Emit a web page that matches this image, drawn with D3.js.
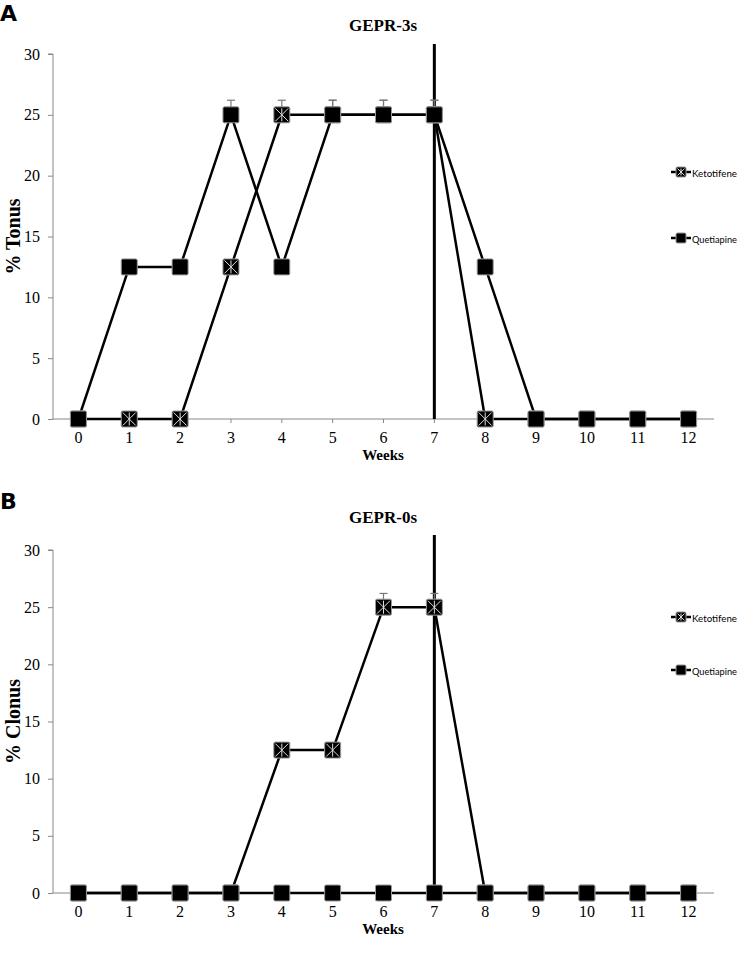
<!DOCTYPE html>
<html><head><meta charset="utf-8">
<script src="https://cdn.jsdelivr.net/npm/d3@7"></script>
<style>body{margin:0;background:#fff}svg{display:block}</style>
</head><body>
<svg id="c" width="742" height="958"></svg>
<script>
const weeks = ["0","1","2","3","4","5","6","7","8","9","10","11","12"];
const yTicks = [0,5,10,15,20,25,30];
const seriesNames = ["Ketotifene","Quetiapine"];
const tonusKetotifene = [0,0,0,12.5,25,25,25,25,0,0,0,0,0];
const tonusQuetiapine = [0,12.5,12.5,25,12.5,25,25,25,12.5,0,0,0,0];
const tonusKetotifeneErr = [0,0,0,0,1.2,1.2,1.2,1.2,0,0,0,0,0];
const tonusQuetiapineErr = [0,0,0,1.2,0,1.2,1.2,1.2,0,0,0,0,0];
const clonusKetotifene = [0,0,0,0,12.5,12.5,25,25,0,0,0,0,0];
const clonusQuetiapine = [0,0,0,0,0,0,0,0,0,0,0,0,0];
const clonusKetotifeneErr = [0,0,0,0,0,0,1.2,1.2,0,0,0,0,0];
const clonusQuetiapineErr = [0,0,0,0,0,0,0,0,0,0,0,0,0];
const markerWeek = "7";

const svg = d3.select("#c");

function drawPanel(cfg){
  const g = svg.append("g");
  const x = d3.scaleBand().domain(weeks).range([53,714]);
  const xc = w => x(w) + x.bandwidth()/2;
  const y = d3.scaleLinear().domain([0,30]).range([cfg.y0, cfg.y30]);

  g.append("text").attr("x",0).attr("y",cfg.letterY).text(cfg.letter)
    .attr("font-family","DejaVu Sans").attr("font-weight","bold").attr("font-size",22);
  g.append("text").attr("x",383).attr("y",cfg.titleY).attr("text-anchor","middle").text(cfg.title)
    .attr("font-family","Liberation Serif").attr("font-weight","bold").attr("font-size",17);

  const ya = g.append("g").attr("transform","translate(53,0)")
    .call(d3.axisLeft(y).tickValues(yTicks).tickSize(5).tickPadding(8));
  ya.select(".domain").attr("stroke","#888").attr("d",`M-5,${y(30)}H0V${y(0)}`);
  ya.selectAll(".tick line").attr("stroke","#888");
  ya.selectAll(".tick text").attr("font-family","Liberation Serif").attr("font-size",16).attr("fill","#000");

  const xa = g.append("g").attr("transform",`translate(0,${cfg.y0})`)
    .call(d3.axisBottom(x).tickSize(4).tickPadding(9));
  xa.select(".domain").attr("stroke","#888").attr("d","M53,0H714");
  xa.selectAll(".tick line").attr("stroke","#888");
  xa.selectAll(".tick text").attr("font-family","Liberation Serif").attr("font-size",16).attr("fill","#000");
  g.append("text").attr("x",383).attr("y",cfg.y0+41).attr("text-anchor","middle").text("Weeks")
    .attr("font-family","Liberation Serif").attr("font-weight","bold").attr("font-size",15);

  g.append("text").attr("transform",`translate(20,${(cfg.y0+cfg.y30)/2}) rotate(-90)`)
    .attr("text-anchor","middle").text(cfg.ylabel)
    .attr("font-family","Liberation Serif").attr("font-weight","bold").attr("font-size",20);

  g.append("line").attr("x1",xc(markerWeek)).attr("x2",xc(markerWeek))
    .attr("y1",cfg.lineTop).attr("y2",y(0)).attr("stroke","#000").attr("stroke-width",3);

  const series = [
    {name:seriesNames[0], vals:cfg.k, err:cfg.ke, cross:true},
    {name:seriesNames[1], vals:cfg.q, err:cfg.qe, cross:false}
  ];
  const line = d3.line().x((d,i)=>xc(weeks[i])).y(d=>y(d));
  series.forEach(s=>{
    g.append("path").attr("d",line(s.vals)).attr("fill","none").attr("stroke","#000").attr("stroke-width",2.5);
  });
  series.forEach(s=>{
    s.vals.forEach((v,i)=>{
      if(s.err[i]>0){
        const cx = xc(weeks[i]);
        g.append("line").attr("x1",cx).attr("x2",cx).attr("y1",y(v)).attr("y2",y(v+s.err[i])).attr("stroke","#777").attr("stroke-width",1.2);
        g.append("line").attr("x1",cx-4).attr("x2",cx+4).attr("y1",y(v+s.err[i])).attr("y2",y(v+s.err[i])).attr("stroke","#777").attr("stroke-width",1.2);
      }
    });
  });
  function marker(gg, cx, cy, sz, cross){
    gg.append("rect").attr("x",cx-sz/2).attr("y",cy-sz/2).attr("width",sz).attr("height",sz).attr("rx",1.5)
      .attr("fill","#000").attr("stroke","#999").attr("stroke-width",1);
    if(cross){
      const h = sz/2-1.5;
      gg.append("path").attr("d",`M${cx-h},${cy-h}L${cx+h},${cy+h}M${cx+h},${cy-h}L${cx-h},${cy+h}M${cx},${cy-h}V${cy+h}`)
        .attr("stroke","#ddd").attr("stroke-width",1);
    }
  }
  series.forEach(s=>{
    s.vals.forEach((v,i)=>marker(g, xc(weeks[i]), y(v), 16, s.cross));
  });

  series.forEach((s,j)=>{
    const ly = cfg.legY[j];
    g.append("line").attr("x1",671).attr("x2",691).attr("y1",ly).attr("y2",ly).attr("stroke","#000").attr("stroke-width",2.5);
    marker(g, 681, ly, 10, s.cross);
    g.append("text").attr("x",692).attr("y",ly+4.5).text(s.name)
      .attr("font-family","Lato").attr("font-size",10).attr("textLength",45).attr("lengthAdjust","spacingAndGlyphs");
  });
}

drawPanel({letter:"A", letterY:21, title:"GEPR-3s", titleY:31, y0:419, y30:54, lineTop:44,
  ylabel:"% Tonus", k:tonusKetotifene, q:tonusQuetiapine, ke:tonusKetotifeneErr, qe:tonusQuetiapineErr, legY:[172,238]});
drawPanel({letter:"B", letterY:509, title:"GEPR-0s", titleY:523, y0:893, y30:550, lineTop:535,
  ylabel:"% Clonus", k:clonusKetotifene, q:clonusQuetiapine, ke:clonusKetotifeneErr, qe:clonusQuetiapineErr, legY:[617,670]});
</script>
</body></html>
